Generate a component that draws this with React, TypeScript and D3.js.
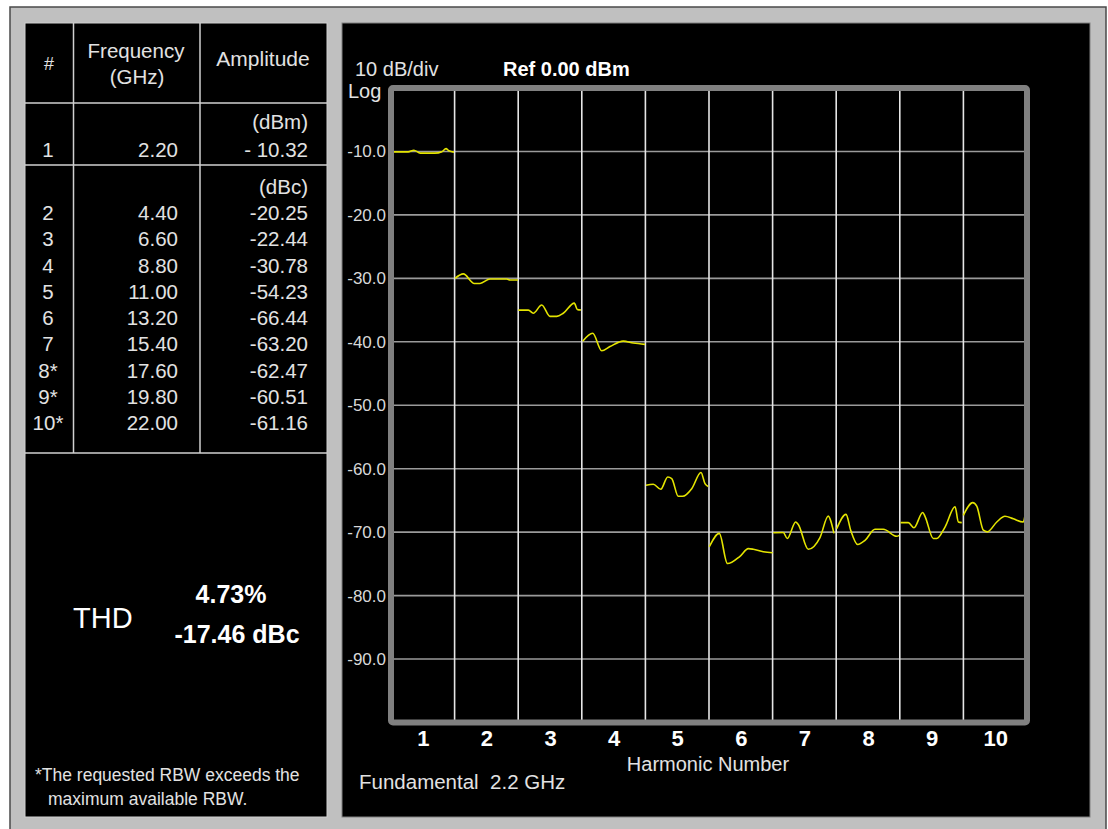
import { useEffect, useRef } from 'react';
import * as d3 from 'd3';

const harmonics = [1, 2, 3, 4, 5, 6, 7, 8, 9, 10];
const freqGHz = [2.2, 4.4, 6.6, 8.8, 11.0, 13.2, 15.4, 17.6, 19.8, 22.0];
const amplitude = [-10.32, -20.25, -22.44, -30.78, -54.23, -66.44, -63.2, -62.47, -60.51, -61.16];
const rbwExceeded = [false, false, false, false, false, false, false, true, true, true];
const yTicks = [-10, -20, -30, -40, -50, -60, -70, -80, -90];
const thdPercent = 4.73;
const thdDbc = -17.46;

// trace: [harmonic position, dBm], one run per harmonic band
const trace: [number, number][][] = [
  [[0.5, -10.07], [0.77, -10.07], [0.86, -9.8], [0.96, -10.27], [1.19, -10.27], [1.3, -10.04], [1.365, -9.55], [1.41, -9.9], [1.49, -10.1]],
  [[1.506, -30.0], [1.637, -29.3], [1.81, -30.8], [1.9, -30.8], [2.057, -30.1], [2.32, -30.1], [2.37, -30.25], [2.497, -30.25]],
  [[2.502, -35.0], [2.66, -35.0], [2.737, -35.5], [2.87, -34.2], [3.0, -36.0], [3.105, -36.0], [3.209, -35.5], [3.382, -33.9], [3.429, -34.9], [3.487, -35.0]],
  [[3.514, -39.9], [3.671, -38.65], [3.813, -41.4], [3.943, -40.75], [4.152, -39.9], [4.31, -40.2], [4.494, -40.4]],
  [[4.509, -62.6], [4.624, -62.45], [4.741, -63.25], [4.851, -61.3], [4.914, -61.55], [5.017, -64.35], [5.087, -64.35], [5.228, -63.15], [5.374, -60.6], [5.437, -62.35], [5.489, -62.8]],
  [[5.505, -72.3], [5.662, -70.2], [5.79, -74.95], [5.987, -73.8], [6.118, -72.6], [6.197, -72.7], [6.354, -73.1], [6.501, -73.25]],
  [[6.511, -70.1], [6.668, -70.05], [6.731, -71.0], [6.863, -68.4], [6.904, -68.8], [7.061, -72.7], [7.245, -70.85], [7.376, -67.45], [7.403, -67.9], [7.465, -70.2]],
  [[7.508, -69.45], [7.654, -67.2], [7.728, -69.7], [7.838, -71.95], [7.953, -71.3], [8.11, -69.55], [8.241, -69.55], [8.451, -70.65], [8.49, -70.5]],
  [[8.511, -68.5], [8.634, -68.5], [8.723, -69.3], [8.86, -66.9], [8.896, -67.5], [9.027, -71.0], [9.081, -71.0], [9.211, -69.2], [9.369, -66.0], [9.421, -68.4], [9.474, -68.5]],
  [[9.499, -67.35], [9.647, -65.35], [9.71, -65.9], [9.814, -69.7], [9.877, -69.95], [10.025, -68.4], [10.154, -67.5], [10.285, -67.9], [10.442, -68.4], [10.469, -67.35]],
];

export default function App() {
  const svgRef = useRef<SVGSVGElement>(null);

  useEffect(() => {
    if (!svgRef.current) return;
    const svg = d3.select(svgRef.current);
    svg.selectAll('*').remove();

    const width = 1108;
    const height = 829;
    svg.attr('width', width).attr('height', height)
      .style('font-family', "'Liberation Sans', Arial, sans-serif");

    const textColor = '#e2e2e2';

    // instrument bezel
    svg.append('rect')
      .attr('x', 10).attr('y', 7).attr('width', 1096).attr('height', 840)
      .attr('fill', '#c0c0c0')
      .attr('stroke', '#4a4a4a')
      .attr('stroke-width', 1.5);

    // ---- left panel: harmonic table ----
    const lp = svg.append('g');
    lp.append('rect')
      .attr('x', 25).attr('y', 23).attr('width', 302).attr('height', 794)
      .attr('fill', '#000')
      .attr('stroke', '#d0d0d0')
      .attr('stroke-width', 1);

    [103, 165, 453].forEach(y => {
      lp.append('line')
        .attr('x1', 25).attr('x2', 327).attr('y1', y).attr('y2', y)
        .attr('stroke', '#d0d0d0').attr('stroke-width', 1.5);
    });
    [73.5, 200].forEach(x => {
      lp.append('line')
        .attr('x1', x).attr('x2', x).attr('y1', 23).attr('y2', 453)
        .attr('stroke', '#d0d0d0').attr('stroke-width', 1.5);
    });

    const addText = (x: number, y: number, txt: string, size: number, anchor = 'start', weight = 'normal', fill = textColor) =>
      lp.append('text')
        .attr('x', x).attr('y', y)
        .attr('text-anchor', anchor)
        .attr('fill', fill)
        .style('font-size', `${size}px`)
        .style('font-weight', weight)
        .attr('xml:space', 'preserve')
        .text(txt);

    addText(49, 70, '#', 18, 'middle');
    addText(136, 58, 'Frequency', 20.5, 'middle');
    addText(137, 84, '(GHz)', 20.5, 'middle');
    addText(263, 66, 'Amplitude', 21, 'middle');

    const colNum = 48;
    const colFreq = 178;
    const colAmp = 308;

    addText(colAmp, 129, '(dBm)', 20.5, 'end');
    addText(colAmp, 194, '(dBc)', 20.5, 'end');

    harmonics.forEach((h, i) => {
      const y = i === 0 ? 157 : 220 + (i - 1) * 26.25;
      const label = `${h}${rbwExceeded[i] ? '*' : ''}`;
      addText(colNum, y, label, 20.5, 'middle');
      addText(colFreq, y, freqGHz[i].toFixed(2), 20.5, 'end');
      const amp = i === 0 ? `- ${Math.abs(amplitude[i]).toFixed(2)}` : amplitude[i].toFixed(2);
      addText(colAmp, y, amp, 20.5, 'end');
    });

    // THD summary
    addText(73, 628, 'THD', 29, 'start', 'normal', '#ffffff');
    addText(231, 603, `${thdPercent.toFixed(2)}%`, 25, 'middle', 'bold', '#ffffff');
    addText(237, 643, `${thdDbc.toFixed(2)} dBc`, 25, 'middle', 'bold', '#ffffff');

    // footnote
    addText(35, 781, '*The requested RBW exceeds the', 17.5);
    addText(48, 805, 'maximum available RBW.', 17.5);

    // ---- right panel: spectrum display ----
    svg.append('rect')
      .attr('x', 342).attr('y', 23).attr('width', 748).attr('height', 794)
      .attr('fill', '#000')
      .attr('stroke', '#808080')
      .attr('stroke-width', 1);

    const x = d3.scaleLinear().domain([0.5, 10.5]).range([391, 1027]);
    const y = d3.scaleLinear().domain([0, -100]).range([88, 722.5]);

    const plot = svg.append('g');

    // horizontal graticule
    plot.selectAll('.hgrid')
      .data(yTicks)
      .enter()
      .append('line')
      .attr('x1', x(0.5)).attr('x2', x(10.5))
      .attr('y1', d => y(d)).attr('y2', d => y(d))
      .attr('stroke', '#9a9a9a')
      .attr('stroke-width', 1.6);

    // vertical graticule at band boundaries
    plot.selectAll('.vgrid')
      .data(harmonics.slice(0, -1))
      .enter()
      .append('line')
      .attr('x1', d => x(d + 0.5)).attr('x2', d => x(d + 0.5))
      .attr('y1', y(0)).attr('y2', y(-100))
      .attr('stroke', '#e6e6e6')
      .attr('stroke-width', 1.6);

    // trace
    const line = d3.line<[number, number]>()
      .x(d => x(d[0]))
      .y(d => y(d[1]))
      .curve(d3.curveMonotoneX);

    plot.selectAll('.trace')
      .data(trace)
      .enter()
      .append('path')
      .attr('d', d => line(d))
      .attr('fill', 'none')
      .attr('stroke', '#e4e400')
      .attr('stroke-width', 1.6);

    // graticule frame
    plot.append('rect')
      .attr('x', x(0.5)).attr('y', y(0))
      .attr('width', x(10.5) - x(0.5))
      .attr('height', y(-100) - y(0))
      .attr('rx', 2)
      .attr('fill', 'none')
      .attr('stroke', '#808080')
      .attr('stroke-width', 6);

    // Y axis labels
    const yAxis = d3.axisLeft(y)
      .tickValues(yTicks)
      .tickSize(0)
      .tickPadding(5)
      .tickFormat(d => (d as number).toFixed(1));

    const yg = svg.append('g')
      .attr('transform', `translate(${x(0.5)},0)`)
      .call(yAxis);
    yg.select('.domain').remove();
    yg.selectAll('text')
      .attr('fill', '#d8d8d8')
      .style('font-size', '17px')
      .style('font-family', "'Liberation Sans', Arial, sans-serif");

    // X axis labels (harmonic number)
    const xAxis = d3.axisBottom(x)
      .tickValues(harmonics)
      .tickSize(0)
      .tickPadding(8)
      .tickFormat(d => String(d));

    const xg = svg.append('g')
      .attr('transform', `translate(0,${y(-100)})`)
      .call(xAxis);
    xg.select('.domain').remove();
    xg.selectAll('text')
      .attr('fill', '#ffffff')
      .style('font-size', '22px')
      .style('font-weight', 'bold')
      .style('font-family', "'Liberation Sans', Arial, sans-serif");

    const label = (px: number, py: number, txt: string, size: number, anchor = 'start', weight = 'normal', fill = textColor) =>
      svg.append('text')
        .attr('x', px).attr('y', py)
        .attr('text-anchor', anchor)
        .attr('fill', fill)
        .attr('xml:space', 'preserve')
        .style('font-size', `${size}px`)
        .style('font-weight', weight)
        .text(txt);

    label(355, 76, '10 dB/div', 20);
    label(348, 98, 'Log', 20);
    label(503, 76, 'Ref 0.00 dBm', 20, 'start', 'bold', '#ffffff');
    label(708, 771, 'Harmonic Number', 20, 'middle');
    label(359, 789, 'Fundamental  2.2 GHz', 20.5);
  }, []);

  return (
    <div style={{ position: 'absolute', left: 0, top: 0, background: '#fff' }}>
      <svg ref={svgRef} style={{ display: 'block' }} />
    </div>
  );
}
